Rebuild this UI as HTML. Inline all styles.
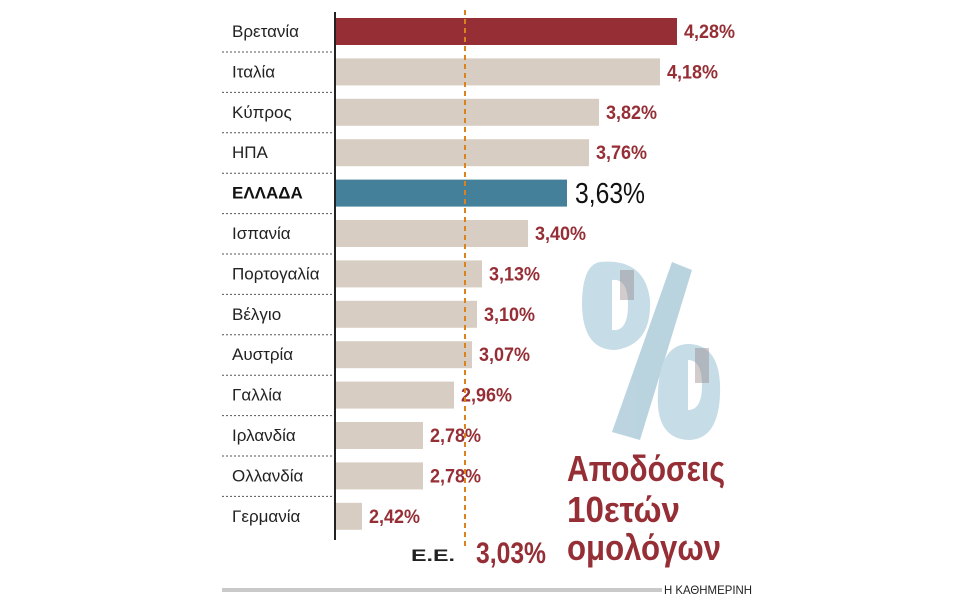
<!DOCTYPE html>
<html><head><meta charset="utf-8"><style>
html,body{margin:0;padding:0;background:#fff;width:960px;height:600px;overflow:hidden}
text{font-family:"Liberation Sans",sans-serif}
</style></head><body>
<svg width="960" height="600" viewBox="0 0 960 600" xmlns="http://www.w3.org/2000/svg">
<g fill="#d8cdc2">
<rect x="336" y="18" width="341" height="27" fill="#962e36"/>
<rect x="336" y="58.4" width="324" height="27"/>
<rect x="336" y="98.8" width="263" height="27"/>
<rect x="336" y="139.2" width="253" height="27"/>
<rect x="336" y="179.6" width="231" height="27" fill="#44809a"/>
<rect x="336" y="220" width="192" height="27"/>
<rect x="336" y="260.4" width="146" height="27"/>
<rect x="336" y="300.8" width="141" height="27"/>
<rect x="336" y="341.2" width="136" height="27"/>
<rect x="336" y="381.6" width="118" height="27"/>
<rect x="336" y="422" width="87" height="27"/>
<rect x="336" y="462.4" width="87" height="27"/>
<rect x="336" y="502.8" width="26" height="27"/>
</g>
<g stroke="#555" stroke-width="1" stroke-dasharray="2,2">
<line x1="222" y1="52" x2="335" y2="52"/><line x1="222" y1="92.4" x2="335" y2="92.4"/>
<line x1="222" y1="132.8" x2="335" y2="132.8"/><line x1="222" y1="173.2" x2="335" y2="173.2"/>
<line x1="222" y1="213.6" x2="335" y2="213.6"/><line x1="222" y1="254" x2="335" y2="254"/>
<line x1="222" y1="294.4" x2="335" y2="294.4"/><line x1="222" y1="334.8" x2="335" y2="334.8"/>
<line x1="222" y1="375.2" x2="335" y2="375.2"/><line x1="222" y1="415.6" x2="335" y2="415.6"/>
<line x1="222" y1="456" x2="335" y2="456"/><line x1="222" y1="496.4" x2="335" y2="496.4"/>
</g>
<g font-size="17" fill="#222">
<text x="232" y="37">Βρετανία</text>
<text x="232" y="77.4">Ιταλία</text>
<text x="232" y="117.8">Κύπρος</text>
<text x="232" y="158.2">ΗΠΑ</text>
<text x="232" y="198.6" font-weight="bold" fill="#111">ΕΛΛΑΔΑ</text>
<text x="232" y="239">Ισπανία</text>
<text x="232" y="279.4">Πορτογαλία</text>
<text x="232" y="319.8">Βέλγιο</text>
<text x="232" y="360.2">Αυστρία</text>
<text x="232" y="400.6">Γαλλία</text>
<text x="232" y="441">Ιρλανδία</text>
<text x="232" y="481.4">Ολλανδία</text>
<text x="232" y="521.8">Γερμανία</text>
</g>
<g font-size="19" font-weight="bold" fill="#962e36" lengthAdjust="spacingAndGlyphs">
<text x="684" y="38" textLength="51" lengthAdjust="spacingAndGlyphs">4,28%</text>
<text x="667" y="78.4" textLength="51" lengthAdjust="spacingAndGlyphs">4,18%</text>
<text x="606" y="118.8" textLength="51" lengthAdjust="spacingAndGlyphs">3,82%</text>
<text x="596" y="159.2" textLength="51" lengthAdjust="spacingAndGlyphs">3,76%</text>
<text x="535" y="240" textLength="51" lengthAdjust="spacingAndGlyphs">3,40%</text>
<text x="489" y="280.4" textLength="51" lengthAdjust="spacingAndGlyphs">3,13%</text>
<text x="484" y="320.8" textLength="51" lengthAdjust="spacingAndGlyphs">3,10%</text>
<text x="479" y="361.2" textLength="51" lengthAdjust="spacingAndGlyphs">3,07%</text>
<text x="461" y="401.6" textLength="51" lengthAdjust="spacingAndGlyphs">2,96%</text>
<text x="430" y="442" textLength="51" lengthAdjust="spacingAndGlyphs">2,78%</text>
<text x="430" y="482.4" textLength="51" lengthAdjust="spacingAndGlyphs">2,78%</text>
<text x="369" y="522.8" textLength="51" lengthAdjust="spacingAndGlyphs">2,42%</text>
</g>
<text x="575" y="203" font-size="29" fill="#111" textLength="70" lengthAdjust="spacingAndGlyphs">3,63%</text>
<!-- percent graphic -->
<g opacity="0.95">
<path d="M600 262 Q645 258 650 300 Q652 345 615 350 Q583 350 582 305 Q582 265 600 262 Z M612 280 L612 330 Q628 332 628 305 Q628 278 612 280 Z" fill="#c4dbe5" fill-rule="evenodd"/>
<path d="M672 262 L692 270 L640 440 L612 432 Z" fill="#b7d2de"/>
<path d="M690 344 Q722 346 720 395 Q718 440 688 440 Q655 438 658 392 Q660 343 690 344 Z M688 360 L688 410 Q702 410 702 385 Q702 360 688 360 Z" fill="#c4dbe5" fill-rule="evenodd"/>
<rect x="620" y="270" width="14" height="30" fill="#8c7b7e" opacity="0.4"/>
<rect x="695" y="348" width="14" height="35" fill="#8c7b7e" opacity="0.4"/>
</g>
<line x1="465" y1="10" x2="465" y2="548" stroke="#d9821e" stroke-width="2" stroke-dasharray="5,4"/>
<line x1="335" y1="12" x2="335" y2="540" stroke="#222" stroke-width="2"/>
<text x="567" y="481" font-size="36" font-weight="bold" fill="#962e36" textLength="158" lengthAdjust="spacingAndGlyphs">Αποδόσεις</text>
<text x="567" y="522" font-size="36" font-weight="bold" fill="#962e36" textLength="113" lengthAdjust="spacingAndGlyphs">10ετών</text>
<text x="567" y="560" font-size="36" font-weight="bold" fill="#962e36" textLength="154" lengthAdjust="spacingAndGlyphs">ομολόγων</text>
<text x="411" y="561" font-size="17" font-weight="bold" fill="#222" textLength="44" lengthAdjust="spacingAndGlyphs">Ε.Ε.</text>
<text x="476" y="563" font-size="30" font-weight="bold" fill="#962e36" textLength="70" lengthAdjust="spacingAndGlyphs">3,03%</text>
<rect x="222" y="588" width="440" height="4" fill="#c9c9c9"/>
<text x="664" y="594" font-size="12" fill="#222" textLength="88" lengthAdjust="spacingAndGlyphs">Η ΚΑΘΗΜΕΡΙΝΗ</text>
</svg>
</body></html>
